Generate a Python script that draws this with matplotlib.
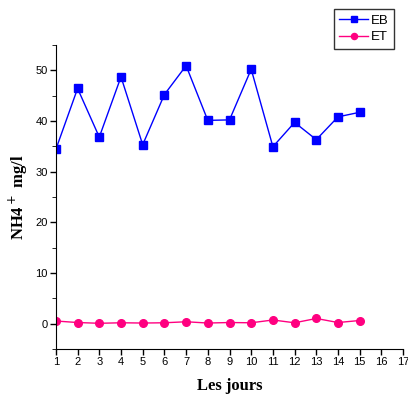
import matplotlib
matplotlib.use('Agg')
import matplotlib.pyplot as plt
from matplotlib.ticker import MultipleLocator

days = list(range(1, 16))
eb = [34.4, 46.4, 36.8, 48.7, 35.3, 45.2, 50.9, 40.1, 40.2, 50.2, 34.9, 39.7, 36.3, 40.8, 41.7]
et = [0.5, 0.2, 0.05, 0.15, 0.1, 0.15, 0.35, 0.1, 0.2, 0.15, 0.7, 0.15, 1.0, 0.2, 0.6]

fig = plt.figure(figsize=(4.08, 4.01), dpi=100)
ax = fig.add_axes([0.137, 0.130, 0.851, 0.758])

ax.plot(days, eb, 's-', color='#0000ff', markersize=5.5, linewidth=1, label='EB')
ax.plot(days, et, 'o-', color='#ff0080', markersize=5.5, linewidth=1, label='ET')

ax.set_xlim(1, 17)
ax.set_ylim(-5, 55)
ax.xaxis.set_major_locator(MultipleLocator(1))
ax.yaxis.set_major_locator(MultipleLocator(10))
ax.yaxis.set_minor_locator(MultipleLocator(5))
ax.spines['top'].set_visible(False)
ax.spines['right'].set_visible(False)
ax.tick_params(labelsize=8, length=4, width=1, pad=2)
ax.tick_params(which='minor', length=3)
for lbl in ax.get_xticklabels() + ax.get_yticklabels():
    lbl.set_family('Liberation Sans')

ax.set_xlabel('Les jours', family='Liberation Serif', fontweight='bold', fontsize=12, labelpad=8)
ax.set_ylabel('NH4$^+$ mg/l', family='Liberation Serif', fontweight='bold', fontsize=12, labelpad=4)

leg = ax.legend(loc='upper right', bbox_to_anchor=(0.974, 1.118), fancybox=False,
                edgecolor='black', fontsize=9.5, handlelength=2.2, borderpad=0.4,
                labelspacing=0.35, handletextpad=0.2, borderaxespad=0, markerscale=0.8)
leg.get_frame().set_linewidth(1)
for t in leg.get_texts():
    t.set_family('Liberation Sans')

plt.savefig('out.png', dpi=100)
